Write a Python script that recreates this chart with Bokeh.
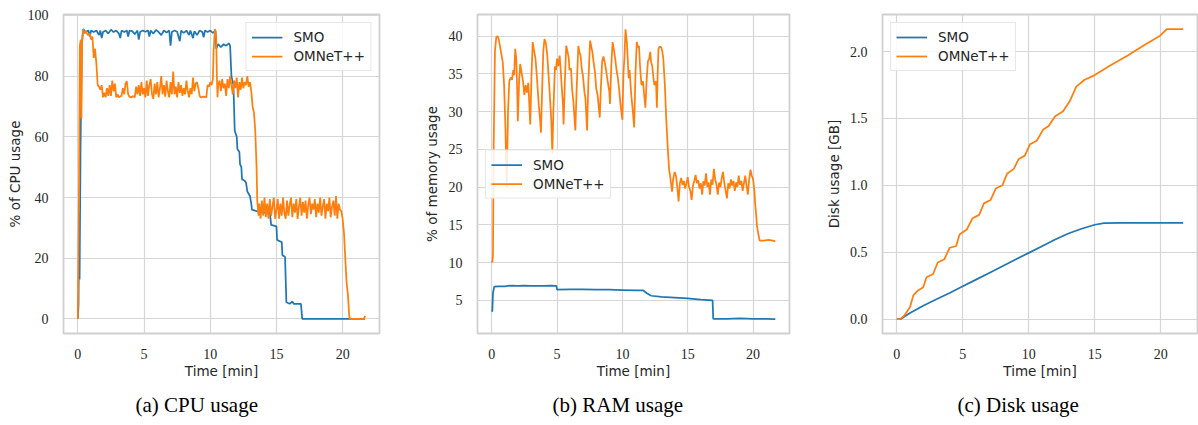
from bokeh.plotting import figure
from bokeh.layouts import row
from bokeh.models import FixedTicker, PrintfTickFormatter, Range1d, Title
from bokeh.embed import file_html
from bokeh.resources import INLINE

BLUE = "#1f77b4"
ORANGE = "#ff7f0e"

# ---------------- CPU usage (%) ----------------
cpu_smo_t = [0, 0.05, 0.1, 0.13, 0.2, 0.3, 0.4, 0.6, 0.8, 0.9, 1.0, 1.2, 1.4, 1.6, 1.7, 1.8, 1.9, 2.1, 2.3, 2.5,
             2.7, 2.9, 3.1, 3.2, 3.3, 3.5, 3.7, 3.8, 3.9, 4.1, 4.3, 4.5, 4.6, 4.7, 4.9, 5.1, 5.3, 5.4, 5.5, 5.7,
             5.9, 6.1, 6.3, 6.5, 6.7, 6.9, 7.0, 7.1, 7.3, 7.5, 7.7, 7.8, 8.0, 8.2, 8.4, 8.5, 8.7, 8.8, 9.0, 9.2,
             9.4, 9.5, 9.6, 9.8, 10.0, 10.2, 10.4, 10.45, 10.6, 10.8, 11.0, 11.2, 11.4, 11.5, 11.6, 11.75, 11.85,
             12.0, 12.05, 12.2, 12.25, 12.35, 12.4, 12.6, 12.7, 12.8, 13.0, 13.1, 13.15, 13.5, 14.0, 14.5, 14.6,
             15.0, 15.05, 15.4, 15.45, 15.65, 15.75, 16.0, 16.2, 16.3, 16.85, 16.95, 21.7]
cpu_smo_v = [0, 5, 35, 13, 55, 90, 95.5, 94.5, 95, 93, 95, 94.5, 95, 93.5, 95, 92.5, 94.5, 95, 94, 95.3,
             94.5, 95, 94, 92.5, 95, 94.5, 95, 93, 95, 94.8, 93.8, 95, 92, 94.5, 95, 94.6, 95, 93, 95, 94,
             95.2, 94.5, 93.5, 95, 94.3, 95, 90, 94.5, 95, 94.6, 91.5, 95, 94.2, 95, 93.5, 95, 92.5, 94.8, 93.5, 95,
             94.5, 92.8, 95, 94.5, 95, 94.2, 95, 89, 90.5, 89.5, 90.5, 90, 90.8, 90, 80, 77, 62,
             60, 56, 55, 51, 50, 46, 45.5, 45, 42, 40.5, 38, 36, 35.5, 35, 35.2, 31,
             30.5, 26, 25.3, 21, 20.5, 5.5, 5, 5.8, 5, 5, 0, 0]

cpu_omn_t = [0, 0.08, 0.15, 0.22, 0.27, 0.32, 0.4, 0.5, 0.6, 0.75, 0.9, 1.0, 1.1, 1.2, 1.3, 1.4, 1.5, 1.6, 1.7,
             1.8, 1.9, 2.0, 2.1, 2.2, 2.3, 2.4, 2.5, 2.6, 2.7, 2.8, 2.9, 3.0, 3.1, 3.3, 3.4, 3.5, 3.6, 3.7, 3.8,
             3.9, 4.0, 4.2, 4.3, 4.4, 4.5, 4.6, 4.7, 4.8, 4.9, 5.0, 5.1, 5.2, 5.3, 5.4, 5.5, 5.6, 5.7, 5.8, 5.9,
             6.0, 6.1, 6.2, 6.3, 6.4, 6.5, 6.6, 6.7, 6.8, 6.9, 7.0, 7.1, 7.2, 7.3, 7.4, 7.5, 7.6, 7.7, 7.8, 7.9,
             8.0, 8.1, 8.2, 8.3, 8.4, 8.5, 8.6, 8.7, 8.8, 8.9, 9.0, 9.1, 9.2, 9.3, 9.5, 9.7, 9.8, 9.9, 10.0, 10.1,
             10.2, 10.25, 10.35, 10.45, 10.5, 10.55, 10.6, 10.7, 10.8, 10.9, 11.0, 11.1, 11.2, 11.3, 11.4, 11.5,
             11.6, 11.7, 11.8, 11.9, 12.0, 12.1, 12.2, 12.3, 12.4, 12.5, 12.6, 12.7, 12.8, 12.9, 13.0, 13.1, 13.2,
             13.3, 13.4, 13.5, 13.55, 13.65, 13.7, 13.8, 13.9, 14.0, 14.1, 14.2, 14.3, 14.4, 14.5, 14.6, 14.7,
             14.8, 14.9, 15.0, 15.1, 15.2, 15.3, 15.4, 15.5, 15.6, 15.7, 15.8, 15.9, 16.0, 16.1, 16.2, 16.3, 16.4,
             16.5, 16.6, 16.7, 16.8, 16.9, 17.0, 17.1, 17.2, 17.3, 17.4, 17.5, 17.6, 17.7, 17.8, 17.9, 18.0, 18.1,
             18.2, 18.3, 18.4, 18.5, 18.6, 18.7, 18.8, 18.9, 19.0, 19.1, 19.2, 19.3, 19.4, 19.5, 19.6, 19.7, 19.8,
             19.9, 20.0, 20.1, 20.2, 20.3, 20.4, 20.5, 20.55, 21.6, 21.7]
cpu_omn_v = [0, 40, 90, 92, 66, 92, 95.5, 94, 94.8, 93.5, 94, 92, 93, 86, 89, 84, 77, 76.5, 75.5,
             77, 73, 74.5, 73, 76, 73.5, 77, 73.5, 78.5, 75, 77.5, 73, 74, 73, 73.5, 76, 74, 77.5, 78.3, 74,
             73.2, 73, 73.4, 73, 76.5, 74, 77, 73.5, 78, 74, 76, 73, 78.5, 73.5, 77, 79, 74, 72.5, 77.5, 74,
             78, 73, 76, 80, 74, 77, 73.2, 78.5, 75, 73, 78, 74, 81.5, 74, 76.5, 73, 78, 74.5, 77, 73.5,
             76, 74, 78.5, 75, 73, 76, 74, 79.5, 75, 77.5, 78, 76, 73.5, 73, 73.2, 73, 77, 76.5, 78, 77,
             79, 88, 95.5, 93, 80, 73, 77, 78.5, 75, 79, 76, 77.5, 73.5, 79, 76, 80,
             77, 74, 78.5, 76, 79.5, 73, 78, 75.5, 79.5, 76, 78, 77, 80, 76.5, 78, 75, 70,
             68, 62, 50, 39, 34, 38, 33, 39, 34, 40, 33.5, 38, 33, 39.5, 34, 37,
             40, 33, 36, 39.5, 33, 38, 34, 40, 35, 33, 39, 34, 37.5, 40, 33.5, 38, 35,
             39.5, 33, 37, 40, 34, 38.5, 35, 39, 33, 37.5, 40, 34.5, 38, 36, 39.5, 33.5, 38,
             35, 40, 34, 37, 39.5, 33, 38, 35.5, 40, 33.5, 37, 39, 34, 40.5, 33, 38, 36,
             35.5, 33, 28.5, 20, 12, 8, 1, 0, 0, 1]

# ---------------- RAM usage (%) ----------------
ram_smo_t = [0, 0.05, 0.1, 0.2, 0.5, 1.0, 1.5, 2.0, 2.5, 3.0, 3.5, 4.0, 4.5, 4.95, 5.0, 6.0, 7.0, 8.0, 9.0,
             10.0, 11.0, 11.6, 11.9, 12.2, 13.0, 14.0, 15.0, 16.0, 16.9, 16.95, 18.0, 19.0, 20.0, 21.0, 21.7]
ram_smo_v = [3.5, 3.6, 6.0, 6.8, 6.85, 6.85, 6.95, 6.9, 6.95, 6.9, 6.9, 6.9, 6.95, 6.9, 6.4, 6.45, 6.45, 6.4, 6.4,
             6.35, 6.3, 6.3, 5.9, 5.6, 5.45, 5.35, 5.25, 5.1, 5.0, 2.55, 2.55, 2.6, 2.55, 2.55, 2.5]

ram_omn_t = [0, 0.05, 0.1, 0.15, 0.25, 0.35, 0.45, 0.55, 0.65, 0.75, 0.85, 0.95, 1.05, 1.15, 1.25, 1.35, 1.45,
             1.55, 1.65, 1.72, 1.8, 1.88, 1.95, 2.0, 2.1, 2.18, 2.3, 2.4, 2.5, 2.6, 2.7, 2.8, 2.95, 3.05, 3.14,
             3.25, 3.35, 3.45, 3.6, 3.7, 3.77, 3.87, 3.95, 4.04, 4.15, 4.25, 4.4, 4.55, 4.64, 4.72, 4.84, 4.92,
             5.0, 5.1, 5.2, 5.3, 5.35, 5.45, 5.5, 5.6, 5.7, 5.8, 5.9, 5.95, 6.07, 6.15, 6.25, 6.4, 6.5, 6.63,
             6.72, 6.8, 6.9, 6.98, 7.1, 7.17, 7.3, 7.4, 7.53, 7.6, 7.7, 7.8, 7.9, 8.0, 8.1, 8.27, 8.35, 8.45,
             8.55, 8.64, 8.75, 8.84, 9.0, 9.05, 9.15, 9.25, 9.35, 9.45, 9.55, 9.65, 9.75, 9.85, 10.0, 10.08,
             10.15, 10.24, 10.35, 10.48, 10.55, 10.68, 10.8, 10.9, 11.0, 11.1, 11.2, 11.27, 11.35, 11.46, 11.58,
             11.65, 11.76, 11.85, 11.95, 12.05, 12.13, 12.2, 12.28, 12.37, 12.45, 12.57, 12.64, 12.7, 12.76,
             12.85, 12.98, 13.05, 13.13, 13.25, 13.35, 13.48, 13.58, 13.65, 13.72, 13.8, 13.88, 14.0, 14.1,
             14.2, 14.3, 14.4, 14.5, 14.6, 14.7, 14.8, 14.9, 15.0, 15.1, 15.2, 15.3, 15.4, 15.5, 15.6, 15.7,
             15.8, 15.9, 16.0, 16.1, 16.2, 16.3, 16.4, 16.5, 16.6, 16.7, 16.8, 16.9, 17.0, 17.1, 17.2, 17.3,
             17.4, 17.5, 17.6, 17.7, 17.8, 17.9, 18.0, 18.1, 18.2, 18.3, 18.4, 18.5, 18.6, 18.7, 18.8, 18.9,
             19.0, 19.1, 19.2, 19.3, 19.4, 19.5, 19.6, 19.7, 19.8, 19.9, 20.0, 20.1, 20.15, 20.25, 20.3, 20.4,
             20.5, 20.8, 21.2, 21.5, 21.7]
ram_omn_v = [10.2, 10, 11, 25, 38, 39.8, 40, 39.5, 38.5, 37.5, 36.5, 33.5, 28, 20, 30, 34, 34.5,
             34.2, 35.5, 34.8, 38.3, 37, 33, 28.7, 34, 36.3, 35, 34, 32.2, 33.5, 32.5, 33.8, 28.3, 35, 39.2,
             38, 37, 34.8, 30.9, 29, 27.2, 33.5, 38, 39.6, 39, 37.5, 33.5, 29.2, 24.4, 30, 36, 35.5,
             37, 36, 37.4, 35, 33.5, 31, 28.3, 34, 38.7, 38, 37, 35.5, 35.7, 33, 31.3, 27.5, 33, 38.7,
             37.8, 37.4, 35.5, 34.8, 32.5, 31.8, 27.5, 34, 39.4, 38.8, 37.9, 36.5, 35.3, 33, 32.2, 29.2, 33, 36.6,
             37.3, 36.6, 35.5, 34.4, 32.6, 31, 36, 39.2, 38.2, 37, 35.5, 34.5, 33, 31, 28.9, 35,
             37, 40.9, 39, 34.4, 35.5, 32.2, 30, 27.9, 35, 39.2, 38.5, 38.7, 36, 33.5, 34,
             32.5, 30.5, 34, 36.6, 37, 37.9, 36.5, 36.1, 34.5, 33.5, 34, 30.5, 35, 38.3,
             38.6, 38.5, 38, 37, 33.5, 29.2, 24.9, 22.2, 21.5, 20.5, 19.4, 21, 22, 21.5,
             20, 18.1, 20.5, 21.2, 20.3, 20.8, 19.8, 20.5, 21.3, 20, 19.5, 18.3, 20.2, 20.8, 21.6, 20.5,
             20.9, 19.8, 20.5, 19, 20.8, 20.2, 21.8, 20, 20.6, 19, 21, 20.3, 22.4, 21, 20.3, 19,
             20.6, 20, 21.2, 22, 20.5, 19.5, 18.5, 20.5, 19.8, 21, 20.2, 20.8, 19.5, 20.6, 20, 21.5,
             20.3, 20.8, 19.5, 20.5, 21.5, 20.2, 19, 21, 22.3, 21.5, 21, 19.5, 18, 16, 14.8, 13.8,
             12.9, 12.9, 13, 12.9, 12.8]

# ---------------- Disk usage (GB) ----------------
disk_smo_t = [0, 0.3, 1, 2, 3, 4, 5, 6, 7, 8, 9, 10, 11, 12, 13, 14, 15, 15.7, 17, 21.7]
disk_smo_v = [0, 0.0, 0.045, 0.1, 0.148, 0.195, 0.245, 0.295, 0.345, 0.395, 0.445, 0.495, 0.545, 0.595,
              0.64, 0.675, 0.705, 0.718, 0.72, 0.72]

disk_omn_t = [0, 0.25, 0.6, 1.0, 1.25, 1.6, 2.0, 2.25, 2.75, 3.1, 3.6, 4.0, 4.5, 4.75, 5.3, 5.74, 6.24,
              6.6, 7.1, 7.5, 8.0, 8.35, 8.86, 9.24, 9.7, 10.1, 10.6, 11.1, 11.5, 12.0, 12.6, 13.1, 13.6,
              14.2, 15.0, 16.2, 17.5, 18.7, 19.95, 20.46, 21.7]
disk_omn_v = [0, 0.0, 0.03, 0.09, 0.177, 0.214, 0.238, 0.312, 0.337, 0.423, 0.447, 0.533, 0.546, 0.632,
              0.669, 0.754, 0.779, 0.865, 0.89, 0.976, 1.0, 1.086, 1.123, 1.197, 1.222, 1.307, 1.333, 1.418,
              1.443, 1.517, 1.554, 1.628, 1.738, 1.787, 1.824, 1.897, 1.971, 2.045, 2.119, 2.168, 2.168]

x_ticks = [0, 5, 10, 15, 20]
cpu_ticks = [0, 20, 40, 60, 80, 100]
ram_ticks = [5, 10, 15, 20, 25, 30, 35, 40]
disk_ticks = [0.0, 0.5, 1.0, 1.5, 2.0]

GRID = "#d6d6d6"
TXT = "#262626"
SERIF = "Liberation Serif"
SANS = "DejaVu Sans"
LW = 1.75


def make_fig(width, left, right, top, yr, yticks, ylabel, caption, cap_offset, ylab_standoff):
    p = figure(width=width, height=425, output_backend="svg", toolbar_location=None,
               x_range=Range1d(-1.085, 22.785), y_range=Range1d(*yr),
               min_border_left=left, min_border_right=right, min_border_top=top, min_border_bottom=92)
    p.background_fill_color = "white"
    p.border_fill_color = "white"
    p.outline_line_color = "#d0d0d0"
    p.outline_line_width = 1.8
    p.xaxis.ticker = FixedTicker(ticks=x_ticks)
    p.yaxis.ticker = FixedTicker(ticks=yticks)
    for ax in (p.xaxis, p.yaxis):
        ax.axis_line_color = None
        ax.major_tick_line_color = None
        ax.minor_tick_line_color = None
        ax.major_label_text_font = SERIF
        ax.major_label_text_font_size = "14px"
        ax.major_label_text_color = TXT
        ax.axis_label_text_font = SANS
        ax.axis_label_text_font_size = "13.5px"
        ax.axis_label_text_font_style = "normal"
        ax.axis_label_text_color = TXT
        ax.major_label_standoff = 9
    p.xaxis.axis_label_standoff = 1
    p.yaxis.axis_label_standoff = ylab_standoff
    p.xaxis.axis_label = "Time [min]"
    p.yaxis.axis_label = ylabel
    p.xgrid.ticker = FixedTicker(ticks=x_ticks)
    p.ygrid.ticker = FixedTicker(ticks=yticks)
    for g in (p.xgrid, p.ygrid):
        g.grid_line_color = GRID
        g.grid_line_width = 1.2
    cap = Title(text=caption, align="left", offset=cap_offset, text_font=SERIF,
                text_font_size="21px", text_font_style="normal", text_color="black", standoff=18)
    p.add_layout(cap, "below")
    return p


def style_legend(p, loc):
    lg = p.legend[0]
    lg.location = loc
    lg.margin = 8
    lg.padding = 5
    lg.spacing = 1
    lg.glyph_width = 31
    lg.glyph_height = 18
    lg.label_height = 18
    lg.label_standoff = 11
    lg.label_text_font = SANS
    lg.label_text_font_size = "13.5px"
    lg.label_text_color = TXT
    lg.border_line_color = "#d0d0d0"
    lg.border_line_width = 1
    lg.background_fill_color = "white"
    lg.background_fill_alpha = 0.85


p1 = make_fig(420, 63, 41, 14, (-4.78, 100.28), cpu_ticks, "% of CPU usage", "(a)  CPU usage", 72, 2)
p1.line(cpu_smo_t, cpu_smo_v, color=BLUE, line_width=LW, legend_label="SMO")
p1.line(cpu_omn_t, cpu_omn_v, color=ORANGE, line_width=LW, legend_label="OMNeT++")
style_legend(p1, "top_right")

p2 = make_fig(400, 47, 31, 10, (0.6, 42.85), ram_ticks, "% of memory usage", "(b)  RAM usage", 75, 6)
p2.line(ram_smo_t, ram_smo_v, color=BLUE, line_width=LW, legend_label="SMO")
p2.line(ram_omn_t, ram_omn_v, color=ORANGE, line_width=LW, legend_label="OMNeT++")
style_legend(p2, "left")

p3 = make_fig(378, 62, 1, 9, (-0.108, 2.277), disk_ticks, "Disk usage [GB]", "(c)  Disk usage", 75, 5)
p3.yaxis.formatter = PrintfTickFormatter(format="%.1f")
p3.line(disk_smo_t, disk_smo_v, color=BLUE, line_width=LW, legend_label="SMO")
p3.line(disk_omn_t, disk_omn_v, color=ORANGE, line_width=LW, legend_label="OMNeT++")
style_legend(p3, "top_left")

layout = row(p1, p2, p3)
open("out.html", "w").write(file_html(layout, INLINE))
